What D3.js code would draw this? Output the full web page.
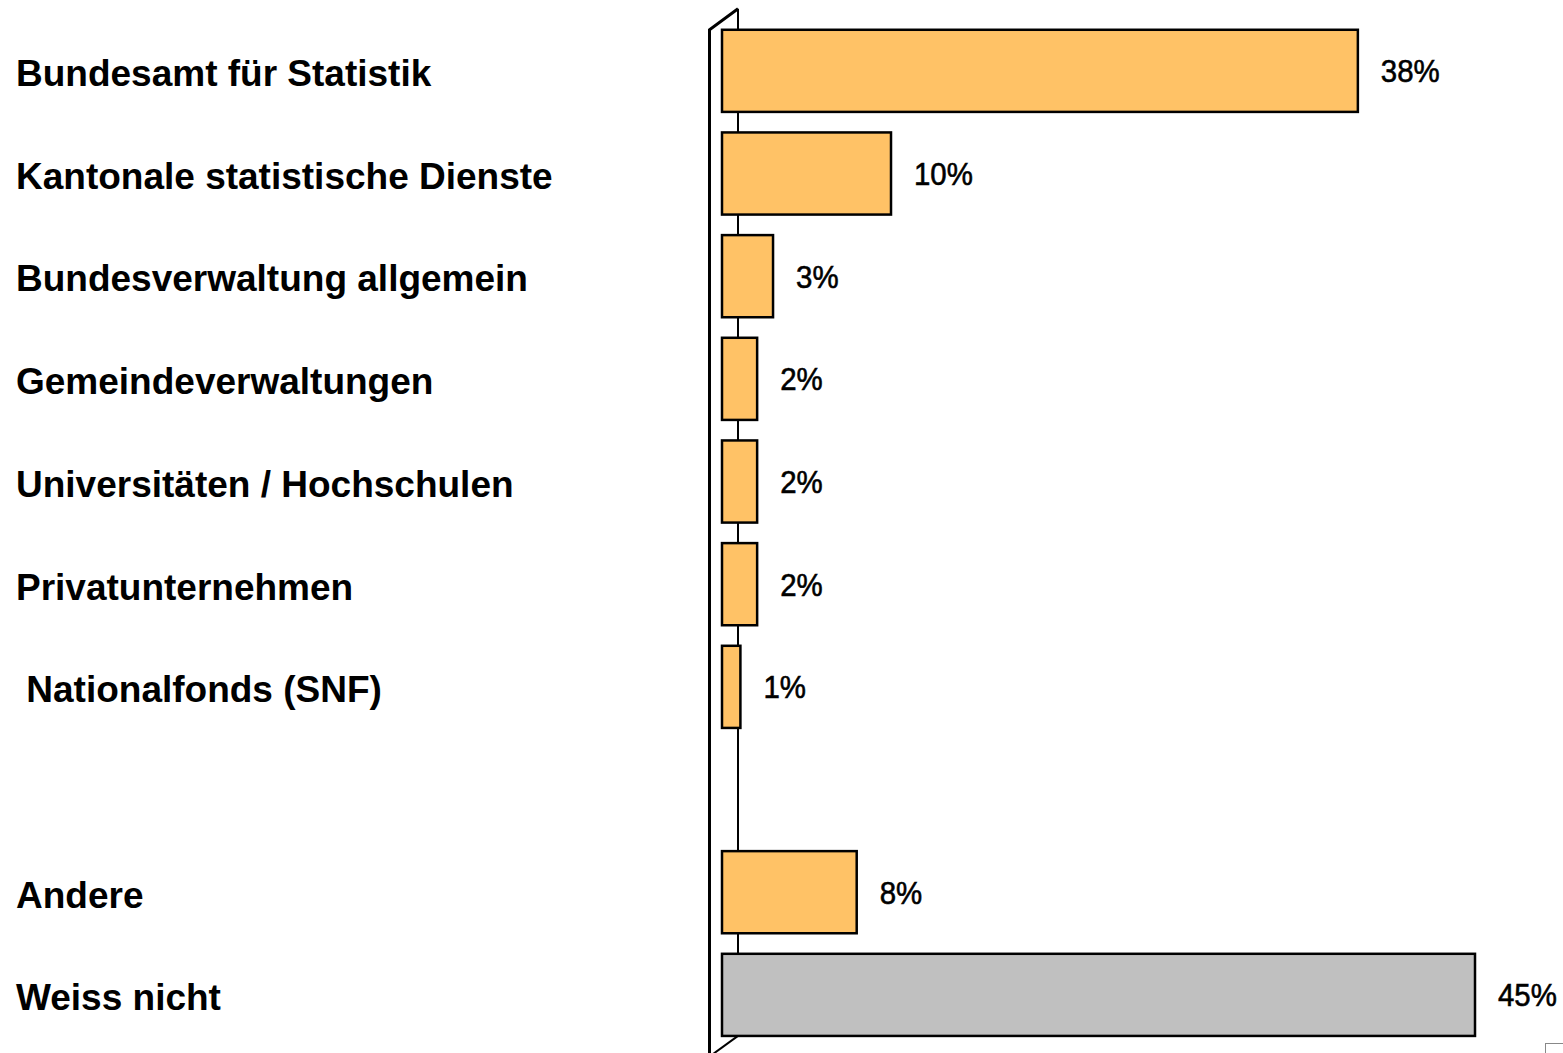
<!DOCTYPE html>
<html><head><meta charset="utf-8">
<script src="https://cdn.jsdelivr.net/npm/d3@7"></script>
<style>html,body{margin:0;padding:0;background:#fff;}svg{display:block;}</style>
</head><body>
<script>
const categories = ["Bundesamt für Statistik","Kantonale statistische Dienste","Bundesverwaltung allgemein","Gemeindeverwaltungen","Universitäten / Hochschulen","Privatunternehmen"," Nationalfonds (SNF)","","Andere","Weiss nicht"];
const values = [38.0, 10.1, 3.05, 2.1, 2.1, 2.1, 1.1, null, 8.05, 45.0];
const valueLabels = ["38%","10%","3%","2%","2%","2%","1%","","8%","45%"];
const barColors = ["#FFC266","#FFC266","#FFC266","#FFC266","#FFC266","#FFC266","#FFC266","#FFC266","#FFC266","#C0C0C0"];

const W = 1563, H = 1053;
const svg = d3.select("body").append("svg").attr("width", W).attr("height", H);

const x = d3.scaleLinear().domain([0, 45]).range([722, 1475]);
const y = d3.scaleBand().domain(d3.range(categories.length)).range([19.5, 1046.2]).paddingInner(0.2).paddingOuter(0.1);

// wall (3D back)
const depthX = 29, depthY = 21;
const x0 = x(0);
const topY = y(0), botY = y(categories.length - 1) + y.bandwidth();
const g = svg.append("g");
g.append("line").attr("x1", x0 + 16).attr("x2", x0 + 16).attr("y1", topY - depthY).attr("y2", botY)
  .attr("stroke", "#000").attr("stroke-width", 2);
g.append("path").attr("d", `M${x0-12.5},${H+5} L${x0-12.5},${topY} L${x0+16},${topY-depthY}`)
  .attr("fill", "none").attr("stroke", "#000").attr("stroke-width", 3);
g.append("line").attr("x1", x0 + 16).attr("y1", botY).attr("x2", x0 + 16 - depthX).attr("y2", botY + depthY)
  .attr("stroke", "#000").attr("stroke-width", 2);

const data = categories.map((c, i) => ({c, v: values[i], lab: valueLabels[i], col: barColors[i], i}));

svg.append("g").selectAll("rect").data(data.filter(d => d.v != null)).join("rect")
  .attr("x", x(0)).attr("y", d => y(d.i)).attr("width", d => x(d.v) - x(0)).attr("height", y.bandwidth())
  .attr("fill", d => d.col).attr("stroke", "#000").attr("stroke-width", 2.5);

svg.append("g").selectAll("text").data(data.filter(d => d.v != null)).join("text")
  .attr("transform", d => `translate(${x(d.v) + 23},${y(d.i) + y.bandwidth() / 2}) scale(0.92,1)`)
  .attr("dy", "0.36em")
  .attr("font-family", "'Liberation Sans',Arial,sans-serif")
  .attr("font-size", 32)
  .attr("stroke", "#000").attr("stroke-width", 0.6)
  .attr("fill", "#000").text(d => d.lab);

svg.append("g").selectAll("text").data(data.filter(d => d.c !== "")).join("text")
  .attr("x", 16).attr("y", d => y(d.i) + y.bandwidth() / 2 + 2)
  .attr("dy", "0.36em")
  .attr("xml:space", "preserve").style("white-space", "pre")
  .attr("font-family", "'Liberation Sans',Arial,sans-serif")
  .attr("font-size", 37).attr("font-weight", "bold")
  .attr("fill", "#000").text(d => d.c);

svg.append("rect").attr("x", 1545.5).attr("y", 1043.5).attr("width", 30).attr("height", 20)
  .attr("fill", "none").attr("stroke", "#888").attr("stroke-width", 1);
</script>
</body></html>
